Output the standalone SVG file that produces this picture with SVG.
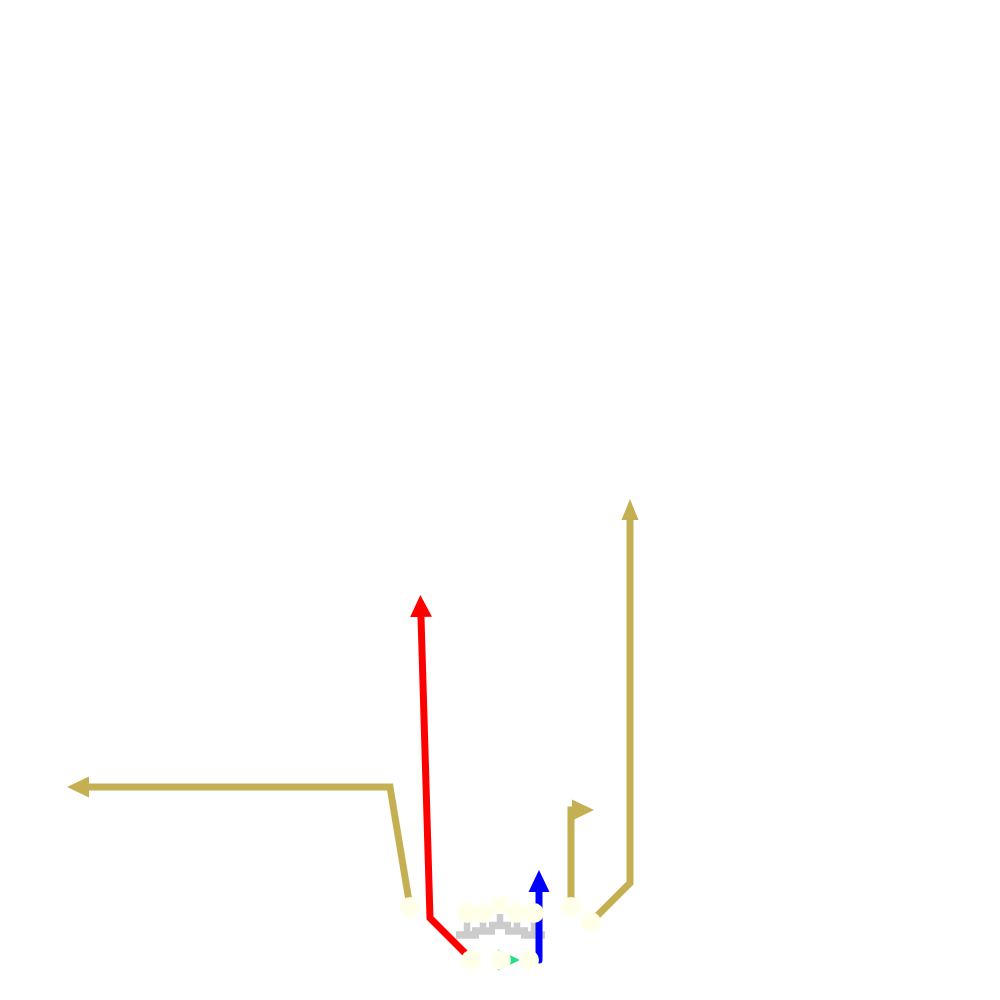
<svg xmlns="http://www.w3.org/2000/svg" width="1000" height="1000" viewBox="0 0 1000 1000">
  <style>
    .route { fill: none; stroke-width: 7; stroke-linejoin: miter; }
    .tan { stroke: #C4B052; }
    .red { stroke: #FF0000; }
    .blue { stroke: #0000FF; stroke-linecap: round; }
    .player { fill: #FFFFEA; }
    .stem { fill: none; stroke: #CCCCCC; stroke-width: 6.5; }
    .bar { fill: none; stroke: #CCCCCC; stroke-width: 7.5; }
  </style>
  <defs>
    <marker id="arrTan" markerUnits="userSpaceOnUse" markerWidth="24" markerHeight="24" refX="0" refY="12" orient="auto" viewBox="0 0 24 24">
      <path d="M0,1.5 L22,12 L0,22.5 z" fill="#C4B052"/>
    </marker>
    <marker id="arrTanN" markerUnits="userSpaceOnUse" markerWidth="24" markerHeight="24" refX="0" refY="12" orient="auto" viewBox="0 0 24 24">
      <path d="M0,3.5 L21,12 L0,20.5 z" fill="#C4B052"/>
    </marker>
    <marker id="arrRed" markerUnits="userSpaceOnUse" markerWidth="24" markerHeight="24" refX="0" refY="12" orient="auto" viewBox="0 0 24 24">
      <path d="M0,1 L22,12 L0,23 z" fill="#FF0000"/>
    </marker>
    <marker id="arrBlue" markerUnits="userSpaceOnUse" markerWidth="24" markerHeight="24" refX="0" refY="12" orient="auto" viewBox="0 0 24 24">
      <path d="M0,1.5 L22,12 L0,22.5 z" fill="#0000FF"/>
    </marker>
  </defs>
  <rect width="1000" height="1000" fill="#FFFFFF"/>

  <g id="blocks">
    <path class="stem" d="M467,914 V932"/><path class="bar" d="M456,935 H479"/>
    <path class="stem" d="M483,914 V928"/><path class="bar" d="M472,931 H495"/>
    <path class="stem" d="M500,914 V922"/><path class="bar" d="M489,925.5 H511"/>
    <path class="stem" d="M517,914 V928"/><path class="bar" d="M505,931 H528"/>
    <path class="stem" d="M534,914 V932"/><path class="bar" d="M521,935 H545"/>
  </g>

  <g id="connectors">
    <path class="route tan" d="M410,907 L390,787 L89,787" marker-end="url(#arrTan)"/>
    <path class="route red" d="M467,955 L430,918 L421,617" marker-end="url(#arrRed)"/>
    <path class="route blue" d="M539,960 L539,892" marker-end="url(#arrBlue)"/>
    <path class="route tan" d="M571,907 L571,810 L572,810" marker-end="url(#arrTan)"/>
    <path class="route tan" d="M591,922 L630,883 L630,520" marker-end="url(#arrTanN)"/>
    <polygon id="motion" points="498,949.5 520,960 498,970.5" fill="#22E08A"/>
  </g>

  <g id="player-lwr"><circle class="player" cx="410" cy="907" r="10"/></g>
  <g id="player-c"><rect class="player" x="492" y="897" width="16" height="16"/></g>
  <g id="player-lt"><circle class="player" cx="467" cy="913" r="10"/></g>
  <g id="player-lg"><circle class="player" cx="483" cy="913" r="10"/></g>
  <g id="player-rg"><circle class="player" cx="517" cy="913" r="10"/></g>
  <g id="player-rt"><circle class="player" cx="534" cy="913" r="10"/></g>
  <g id="player-slot"><circle class="player" cx="571" cy="907" r="10"/></g>
  <g id="player-rwr"><circle class="player" cx="591" cy="922" r="10"/></g>
  <g id="player-lb"><circle class="player" cx="471" cy="960" r="10"/></g>
  <g id="player-qb"><circle class="player" cx="501" cy="960" r="10"/></g>
  <g id="player-rb"><circle class="player" cx="529" cy="960" r="10"/></g>
</svg>
